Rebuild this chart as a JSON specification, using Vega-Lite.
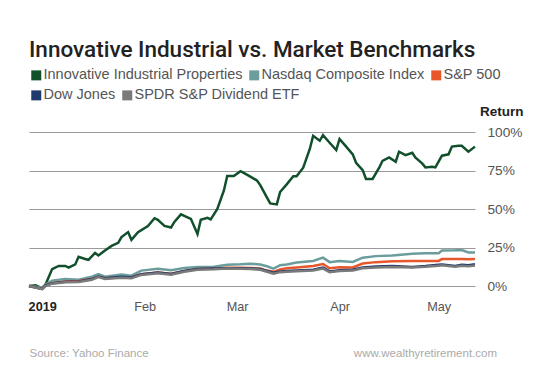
{
  "$schema": "https://vega.github.io/schema/vega-lite/v6.json",
  "width": 446,
  "height": 154,
  "padding": {"left": 24, "top": 38, "right": 5, "bottom": 5},
  "background": "white",
  "title": {
    "text": "Innovative Industrial vs. Market Benchmarks",
    "anchor": "start",
    "frame": "group",
    "font": "Roboto",
    "fontSize": 22.5,
    "fontWeight": 500,
    "color": "#222222",
    "offset": 7
  },
  "datasets": {
    "iipr": [
      {"date": "2018-12-28", "value": 0},
      {"date": "2018-12-30", "value": 0.5},
      {"date": "2019-01-01", "value": -1.5},
      {"date": "2019-01-02", "value": 1},
      {"date": "2019-01-04", "value": 11},
      {"date": "2019-01-06", "value": 13},
      {"date": "2019-01-08", "value": 13},
      {"date": "2019-01-09", "value": 12},
      {"date": "2019-01-11", "value": 14},
      {"date": "2019-01-12", "value": 19},
      {"date": "2019-01-14", "value": 17.5},
      {"date": "2019-01-15", "value": 17},
      {"date": "2019-01-17", "value": 21.5},
      {"date": "2019-01-18", "value": 19.8},
      {"date": "2019-01-20", "value": 23},
      {"date": "2019-01-22", "value": 26},
      {"date": "2019-01-24", "value": 28},
      {"date": "2019-01-25", "value": 31.8},
      {"date": "2019-01-27", "value": 35},
      {"date": "2019-01-28", "value": 30},
      {"date": "2019-01-30", "value": 35},
      {"date": "2019-02-02", "value": 39},
      {"date": "2019-02-04", "value": 44},
      {"date": "2019-02-05", "value": 43},
      {"date": "2019-02-07", "value": 39},
      {"date": "2019-02-09", "value": 38},
      {"date": "2019-02-10", "value": 41.6},
      {"date": "2019-02-12", "value": 46.5},
      {"date": "2019-02-13", "value": 45.5},
      {"date": "2019-02-15", "value": 43.6},
      {"date": "2019-02-17", "value": 33.8},
      {"date": "2019-02-18", "value": 43},
      {"date": "2019-02-20", "value": 44.3},
      {"date": "2019-02-21", "value": 43.3},
      {"date": "2019-02-23", "value": 50},
      {"date": "2019-02-25", "value": 62},
      {"date": "2019-02-26", "value": 71.5},
      {"date": "2019-02-28", "value": 71.5},
      {"date": "2019-03-02", "value": 74.6},
      {"date": "2019-03-03", "value": 73.5},
      {"date": "2019-03-05", "value": 71},
      {"date": "2019-03-07", "value": 68.5},
      {"date": "2019-03-08", "value": 65.5},
      {"date": "2019-03-10", "value": 57.5},
      {"date": "2019-03-11", "value": 53.6},
      {"date": "2019-03-13", "value": 53},
      {"date": "2019-03-14", "value": 61},
      {"date": "2019-03-16", "value": 66},
      {"date": "2019-03-18", "value": 71.3},
      {"date": "2019-03-19", "value": 71.3},
      {"date": "2019-03-21", "value": 76.8},
      {"date": "2019-03-23", "value": 89},
      {"date": "2019-03-24", "value": 97.5},
      {"date": "2019-03-26", "value": 94.3},
      {"date": "2019-03-27", "value": 97.9},
      {"date": "2019-03-29", "value": 93},
      {"date": "2019-03-31", "value": 88.3},
      {"date": "2019-04-01", "value": 95.5},
      {"date": "2019-04-03", "value": 90.5},
      {"date": "2019-04-05", "value": 85.5},
      {"date": "2019-04-06", "value": 80},
      {"date": "2019-04-08", "value": 75.3},
      {"date": "2019-04-09", "value": 69.5},
      {"date": "2019-04-11", "value": 69.5},
      {"date": "2019-04-13", "value": 76.8},
      {"date": "2019-04-14", "value": 81.3},
      {"date": "2019-04-16", "value": 83.5},
      {"date": "2019-04-18", "value": 80.7},
      {"date": "2019-04-19", "value": 87.2},
      {"date": "2019-04-21", "value": 85},
      {"date": "2019-04-23", "value": 86.5},
      {"date": "2019-04-24", "value": 83.3},
      {"date": "2019-04-26", "value": 79.6},
      {"date": "2019-04-27", "value": 77},
      {"date": "2019-04-29", "value": 77.4},
      {"date": "2019-04-30", "value": 77},
      {"date": "2019-05-02", "value": 84.6},
      {"date": "2019-05-04", "value": 85.5},
      {"date": "2019-05-05", "value": 90.5},
      {"date": "2019-05-07", "value": 91},
      {"date": "2019-05-08", "value": 91},
      {"date": "2019-05-10", "value": 87.2},
      {"date": "2019-05-12", "value": 90.5}
    ],
    "bench": [
      {"date": "2018-12-28", "Nasdaq Composite Index": 0, "S&P 500": 0, "Dow Jones": 0, "SPDR S&P Dividend ETF": 0},
      {"date": "2019-01-01", "Nasdaq Composite Index": -1, "S&P 500": -1.8, "Dow Jones": -1.8, "SPDR S&P Dividend ETF": -2},
      {"date": "2019-01-02", "Nasdaq Composite Index": 1, "S&P 500": 0.5, "Dow Jones": 0.5, "SPDR S&P Dividend ETF": 0},
      {"date": "2019-01-04", "Nasdaq Composite Index": 3.5, "S&P 500": 2, "Dow Jones": 1.8, "SPDR S&P Dividend ETF": 1.5},
      {"date": "2019-01-08", "Nasdaq Composite Index": 4.5, "S&P 500": 3, "Dow Jones": 2.8, "SPDR S&P Dividend ETF": 2.5},
      {"date": "2019-01-12", "Nasdaq Composite Index": 4, "S&P 500": 3.2, "Dow Jones": 3, "SPDR S&P Dividend ETF": 2.6},
      {"date": "2019-01-16", "Nasdaq Composite Index": 6, "S&P 500": 4.5, "Dow Jones": 4.5, "SPDR S&P Dividend ETF": 4},
      {"date": "2019-01-18", "Nasdaq Composite Index": 7.7, "S&P 500": 6.2, "Dow Jones": 6.2, "SPDR S&P Dividend ETF": 5.8},
      {"date": "2019-01-20", "Nasdaq Composite Index": 6, "S&P 500": 5, "Dow Jones": 5, "SPDR S&P Dividend ETF": 4.6},
      {"date": "2019-01-25", "Nasdaq Composite Index": 7.4, "S&P 500": 5.7, "Dow Jones": 6, "SPDR S&P Dividend ETF": 5.4},
      {"date": "2019-01-28", "Nasdaq Composite Index": 6.7, "S&P 500": 5.7, "Dow Jones": 5.5, "SPDR S&P Dividend ETF": 5},
      {"date": "2019-01-31", "Nasdaq Composite Index": 10, "S&P 500": 7.7, "Dow Jones": 7.7, "SPDR S&P Dividend ETF": 7.2},
      {"date": "2019-02-05", "Nasdaq Composite Index": 11.2, "S&P 500": 8.8, "Dow Jones": 8.8, "SPDR S&P Dividend ETF": 8.3},
      {"date": "2019-02-09", "Nasdaq Composite Index": 10.3, "S&P 500": 8, "Dow Jones": 7.8, "SPDR S&P Dividend ETF": 7.3},
      {"date": "2019-02-13", "Nasdaq Composite Index": 11.7, "S&P 500": 9.8, "Dow Jones": 9.8, "SPDR S&P Dividend ETF": 9.3},
      {"date": "2019-02-17", "Nasdaq Composite Index": 12.4, "S&P 500": 11, "Dow Jones": 11, "SPDR S&P Dividend ETF": 10.5},
      {"date": "2019-02-22", "Nasdaq Composite Index": 12.5, "S&P 500": 11.3, "Dow Jones": 11.3, "SPDR S&P Dividend ETF": 10.8},
      {"date": "2019-02-26", "Nasdaq Composite Index": 13.8, "S&P 500": 11.8, "Dow Jones": 11.5, "SPDR S&P Dividend ETF": 11.3},
      {"date": "2019-03-02", "Nasdaq Composite Index": 14.1, "S&P 500": 11.8, "Dow Jones": 11.5, "SPDR S&P Dividend ETF": 11.2},
      {"date": "2019-03-05", "Nasdaq Composite Index": 14.5, "S&P 500": 11.7, "Dow Jones": 11.3, "SPDR S&P Dividend ETF": 11},
      {"date": "2019-03-08", "Nasdaq Composite Index": 14, "S&P 500": 11.3, "Dow Jones": 11, "SPDR S&P Dividend ETF": 10.5},
      {"date": "2019-03-10", "Nasdaq Composite Index": 12.8, "S&P 500": 10, "Dow Jones": 9.8, "SPDR S&P Dividend ETF": 9.3},
      {"date": "2019-03-12", "Nasdaq Composite Index": 11.3, "S&P 500": 9.2, "Dow Jones": 8.6, "SPDR S&P Dividend ETF": 8},
      {"date": "2019-03-14", "Nasdaq Composite Index": 13.5, "S&P 500": 10.8, "Dow Jones": 9.5, "SPDR S&P Dividend ETF": 9},
      {"date": "2019-03-16", "Nasdaq Composite Index": 14, "S&P 500": 11.5, "Dow Jones": 9.8, "SPDR S&P Dividend ETF": 9.3},
      {"date": "2019-03-19", "Nasdaq Composite Index": 15.2, "S&P 500": 12, "Dow Jones": 10, "SPDR S&P Dividend ETF": 9.5},
      {"date": "2019-03-24", "Nasdaq Composite Index": 16.2, "S&P 500": 13, "Dow Jones": 10.5, "SPDR S&P Dividend ETF": 10},
      {"date": "2019-03-27", "Nasdaq Composite Index": 18.4, "S&P 500": 14.3, "Dow Jones": 12, "SPDR S&P Dividend ETF": 11.3},
      {"date": "2019-03-29", "Nasdaq Composite Index": 15.5, "S&P 500": 11.5, "Dow Jones": 9.5, "SPDR S&P Dividend ETF": 9},
      {"date": "2019-04-01", "Nasdaq Composite Index": 16.3, "S&P 500": 12.2, "Dow Jones": 10.2, "SPDR S&P Dividend ETF": 9.7},
      {"date": "2019-04-05", "Nasdaq Composite Index": 15.6, "S&P 500": 12, "Dow Jones": 10.6, "SPDR S&P Dividend ETF": 10},
      {"date": "2019-04-08", "Nasdaq Composite Index": 18.4, "S&P 500": 14.6, "Dow Jones": 12, "SPDR S&P Dividend ETF": 11.5},
      {"date": "2019-04-12", "Nasdaq Composite Index": 19.4, "S&P 500": 15.5, "Dow Jones": 12.6, "SPDR S&P Dividend ETF": 12},
      {"date": "2019-04-17", "Nasdaq Composite Index": 19.8, "S&P 500": 16, "Dow Jones": 13, "SPDR S&P Dividend ETF": 12.4},
      {"date": "2019-04-23", "Nasdaq Composite Index": 20.9, "S&P 500": 16.3, "Dow Jones": 12.4, "SPDR S&P Dividend ETF": 12},
      {"date": "2019-04-27", "Nasdaq Composite Index": 21.2, "S&P 500": 16.3, "Dow Jones": 13, "SPDR S&P Dividend ETF": 12.5},
      {"date": "2019-05-01", "Nasdaq Composite Index": 21.3, "S&P 500": 16.3, "Dow Jones": 13.8, "SPDR S&P Dividend ETF": 13.2},
      {"date": "2019-05-02", "Nasdaq Composite Index": 23, "S&P 500": 17.5, "Dow Jones": 14, "SPDR S&P Dividend ETF": 13.4},
      {"date": "2019-05-06", "Nasdaq Composite Index": 23.2, "S&P 500": 17.5, "Dow Jones": 13, "SPDR S&P Dividend ETF": 12.5},
      {"date": "2019-05-08", "Nasdaq Composite Index": 23.4, "S&P 500": 17.5, "Dow Jones": 13.8, "SPDR S&P Dividend ETF": 13.2},
      {"date": "2019-05-10", "Nasdaq Composite Index": 21.8, "S&P 500": 17.3, "Dow Jones": 13.5, "SPDR S&P Dividend ETF": 12.8},
      {"date": "2019-05-12", "Nasdaq Composite Index": 21.8, "S&P 500": 17.5, "Dow Jones": 14.2, "SPDR S&P Dividend ETF": 13.3}
    ],
    "footer": [
      {"site": "www.wealthyretirement.com"}
    ]
  },
  "layer": [
    {
      "encoding": {
        "x": {
          "field": "date",
          "type": "temporal",
          "scale": {"domain": [{"year": 2018, "month": 12, "date": 28}, {"year": 2019, "month": 5, "date": 12}]},
          "axis": {
            "values": [
              {"year": 2019, "month": 1, "date": 1},
              {"year": 2019, "month": 2, "date": 1},
              {"year": 2019, "month": 3, "date": 1},
              {"year": 2019, "month": 4, "date": 1},
              {"year": 2019, "month": 5, "date": 1}
            ],
            "labelExpr": "month(datum.value) == 0 ? '2019' : timeFormat(datum.value, '%b')",
            "labelFontWeight": {"condition": {"test": "month(datum.value) == 0", "value": "bold"}, "value": "normal"},
            "labelColor": {"condition": {"test": "month(datum.value) == 0", "value": "#222222"}, "value": "#555555"},
            "labelFont": "Liberation Sans",
            "labelFontSize": 12.7,
            "labelPadding": 14,
            "grid": false,
            "ticks": false,
            "domain": false,
            "title": "Source: Yahoo Finance",
            "titleAnchor": "start",
            "titleFont": "Liberation Sans",
            "titleFontSize": 11.5,
            "titleFontWeight": "normal",
            "titleColor": "#aaaaaa",
            "titlePadding": 35
          }
        },
        "y": {
          "field": "value",
          "type": "quantitative",
          "scale": {"domain": [0, 100], "nice": false, "zero": false},
          "axis": {
            "orient": "right",
            "values": [0, 25, 50, 75, 100],
            "labelExpr": "datum.value + '%'",
            "grid": true,
            "gridColor": "#9a9a9a",
            "gridWidth": 1,
            "ticks": false,
            "domain": false,
            "labelFont": "Liberation Sans",
            "labelFontSize": 13.7,
            "labelColor": "#555555",
            "labelAlign": "left",
            "labelPadding": 12,
            "title": "Return",
            "titleAngle": 0,
            "titleAlign": "right",
            "titleBaseline": "middle",
            "titleX": 48,
            "titleY": -21,
            "titleFont": "Liberation Sans",
            "titleFontSize": 13.5,
            "titleFontWeight": "bold",
            "titleColor": "#222222"
          }
        }
      },
      "layer": [
        {
          "layer": [
            {
              "data": {"name": "iipr"},
              "mark": {"type": "line", "strokeWidth": 2.5},
              "encoding": {
                "color": {
                  "datum": "Innovative Industrial Properties",
                  "type": "nominal",
                  "scale": {"domain": ["Innovative Industrial Properties", "Nasdaq Composite Index", "S&P 500"], "range": ["#12502c", "#6a9d9c", "#e8562c"]},
                  "legend": {"title": null, "orient": "top"}
                }
              }
            },
            {
              "data": {"name": "bench"},
              "transform": [{"fold": ["Nasdaq Composite Index", "S&P 500"], "as": ["series", "value"]}],
              "mark": {"type": "line", "strokeWidth": 2.5},
              "encoding": {
                "color": {
                  "field": "series",
                  "type": "nominal",
                  "scale": {"domain": ["Innovative Industrial Properties", "Nasdaq Composite Index", "S&P 500"], "range": ["#12502c", "#6a9d9c", "#e8562c"]},
                  "legend": {"title": null, "orient": "top"}
                }
              }
            }
          ]
        },
        {
          "data": {"name": "bench"},
          "transform": [{"fold": ["Dow Jones", "SPDR S&P Dividend ETF"], "as": ["series", "value"]}],
          "mark": {"type": "line", "strokeWidth": 2.5},
          "encoding": {
            "color": {
              "field": "series",
              "type": "nominal",
              "scale": {"domain": ["Dow Jones", "SPDR S&P Dividend ETF"], "range": ["#1f3b6e", "#7a7a7a"]},
              "legend": {"title": null, "orient": "top"}
            }
          }
        }
      ],
      "resolve": {"scale": {"color": "independent"}}
    },
    {
      "data": {"name": "footer"},
      "mark": {"type": "text", "align": "right", "baseline": "middle", "dx": 22, "clip": false, "font": "Liberation Sans", "fontSize": 11.5, "color": "#aaaaaa"},
      "encoding": {
        "x": {
          "datum": {"year": 2019, "month": 5, "date": 12},
          "type": "temporal",
          "scale": {"domain": [{"year": 2018, "month": 12, "date": 28}, {"year": 2019, "month": 5, "date": 12}]},
          "axis": {
            "values": [
              {"year": 2019, "month": 1, "date": 1},
              {"year": 2019, "month": 2, "date": 1},
              {"year": 2019, "month": 3, "date": 1},
              {"year": 2019, "month": 4, "date": 1},
              {"year": 2019, "month": 5, "date": 1}
            ],
            "labelExpr": "month(datum.value) == 0 ? '2019' : timeFormat(datum.value, '%b')",
            "labelFontWeight": {"condition": {"test": "month(datum.value) == 0", "value": "bold"}, "value": "normal"},
            "labelColor": {"condition": {"test": "month(datum.value) == 0", "value": "#222222"}, "value": "#555555"},
            "labelFont": "Liberation Sans",
            "labelFontSize": 12.7,
            "labelPadding": 14,
            "grid": false,
            "ticks": false,
            "domain": false,
            "title": "Source: Yahoo Finance",
            "titleAnchor": "start",
            "titleFont": "Liberation Sans",
            "titleFontSize": 11.5,
            "titleFontWeight": "normal",
            "titleColor": "#aaaaaa",
            "titlePadding": 35
          }
        },
        "y": {
          "datum": -44,
          "type": "quantitative",
          "scale": {"domain": [0, 100], "nice": false, "zero": false},
          "axis": {
            "orient": "right",
            "values": [0, 25, 50, 75, 100],
            "labelExpr": "datum.value + '%'",
            "grid": true,
            "gridColor": "#9a9a9a",
            "gridWidth": 1,
            "ticks": false,
            "domain": false,
            "labelFont": "Liberation Sans",
            "labelFontSize": 13.7,
            "labelColor": "#555555",
            "labelAlign": "left",
            "labelPadding": 12,
            "title": "Return",
            "titleAngle": 0,
            "titleAlign": "right",
            "titleBaseline": "middle",
            "titleX": 48,
            "titleY": -21,
            "titleFont": "Liberation Sans",
            "titleFontSize": 13.5,
            "titleFontWeight": "bold",
            "titleColor": "#222222"
          }
        },
        "text": {"field": "site", "type": "nominal"}
      }
    }
  ],
  "config": {
    "font": "Liberation Sans",
    "view": {"stroke": null},
    "legend": {
      "symbolType": "square",
      "symbolSize": 25,
      "symbolStrokeWidth": 5,
      "labelFont": "Liberation Sans",
      "labelFontSize": 14.5,
      "labelColor": "#555555",
      "labelOffset": 0,
      "labelLimit": 400,
      "columnPadding": -2,
      "padding": 0,
      "offset": 24,
      "layout": {"top": {"anchor": "start", "direction": "vertical", "margin": -10}}
    }
  }
}
